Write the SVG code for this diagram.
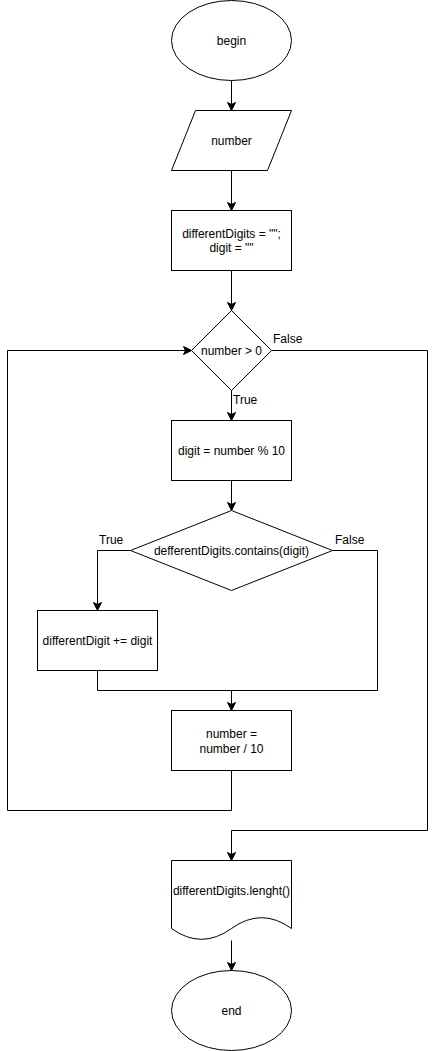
<svg xmlns="http://www.w3.org/2000/svg" width="436" height="1051" viewBox="0 0 436 1051">
  <style>
    .shape { fill: #ffffff; stroke: #000000; stroke-width: 1; }
    .edge { fill: none; stroke: #000000; stroke-width: 1; }
    .label { font-family: "Liberation Sans", Arial, Helvetica, sans-serif; font-size: 12px; fill: #000000; }
    .mid { text-anchor: middle; }
  </style>
  <defs>
    <marker id="arrow" markerUnits="userSpaceOnUse" markerWidth="10" markerHeight="10" refX="9" refY="5" orient="auto">
      <path d="M1,1 L9,5 L1,9 L3,5 Z" fill="#000000" stroke="#000000" stroke-width="1" stroke-linejoin="miter"/>
    </marker>
  </defs>
  <rect width="436" height="1051" fill="#ffffff"/>

  <!-- connectors -->
  <g id="connectors">
    <path class="edge" d="M231.5,80.5 V110.5" marker-end="url(#arrow)"/>
    <path class="edge" d="M231.5,170.5 V210.5" marker-end="url(#arrow)"/>
    <path class="edge" d="M231.5,270.5 V310.5" marker-end="url(#arrow)"/>
    <path class="edge" d="M231.5,390.5 V420.5" marker-end="url(#arrow)"/>
    <path class="edge" d="M231.5,480.5 V510.5" marker-end="url(#arrow)"/>
    <path class="edge" d="M130.5,550.5 H97.5 V610.5" marker-end="url(#arrow)"/>
    <path class="edge" d="M97.5,670.5 V690.5 H377.5 V550.5 H332.5"/>
    <path class="edge" d="M231.5,690.5 V710.5" marker-end="url(#arrow)"/>
    <path class="edge" d="M231.5,770.5 V810.5 H7.5 V350.5 H191.5" marker-end="url(#arrow)"/>
    <path class="edge" d="M271.5,350.5 H427.5 V830.5 H231.5 V860.5" marker-end="url(#arrow)"/>
    <path class="edge" d="M231.5,940.5 V970.5" marker-end="url(#arrow)"/>
    <text class="label" x="273" y="343">False</text>
    <text class="label" x="233" y="404">True</text>
    <text class="label" x="99" y="544">True</text>
    <text class="label" x="335" y="544">False</text>
  </g>

  <g id="begin">
    <ellipse class="shape" cx="231.5" cy="40.5" rx="60" ry="40"/>
    <text class="label mid" x="231.5" y="44.5">begin</text>
  </g>

  <g id="input-number">
    <polygon class="shape" points="195.5,110.5 291.5,110.5 267.5,170.5 171.5,170.5"/>
    <text class="label mid" x="231.5" y="144.5">number</text>
  </g>

  <g id="init">
    <rect class="shape" x="171.5" y="210.5" width="120" height="60"/>
    <text class="label mid" x="231.5" y="237.5">differentDigits = "";</text>
    <text class="label mid" x="231.5" y="251.5">digit = ""</text>
  </g>

  <g id="loop-condition">
    <polygon class="shape" points="231.5,310.5 271.5,350.5 231.5,390.5 191.5,350.5"/>
    <text class="label mid" x="231.5" y="354.5">number &gt; 0</text>
  </g>

  <g id="take-digit">
    <rect class="shape" x="171.5" y="420.5" width="120" height="60"/>
    <text class="label mid" x="231.5" y="454.5">digit = number % 10</text>
  </g>

  <g id="contains-check">
    <polygon class="shape" points="231.5,510.5 332.5,550.5 231.5,590.5 130.5,550.5"/>
    <text class="label mid" x="231.5" y="554.5">defferentDigits.contains(digit)</text>
  </g>

  <g id="append-digit">
    <rect class="shape" x="37.5" y="610.5" width="120" height="60"/>
    <text class="label mid" x="97.5" y="644.5">differentDigit += digit</text>
  </g>

  <g id="divide">
    <rect class="shape" x="171.5" y="710.5" width="120" height="60"/>
    <text class="label mid" x="231.5" y="737.5">number =</text>
    <text class="label mid" x="231.5" y="752.5">number / 10</text>
  </g>

  <g id="output-length">
    <path class="shape" d="M171.5,860.5 H291.5 V928.5 Q261.5,906.9 231.5,928.5 Q201.5,950.1 171.5,928.5 Z"/>
    <text class="label mid" x="231.5" y="894.5">differentDigits.lenght()</text>
  </g>

  <g id="end">
    <ellipse class="shape" cx="231.5" cy="1010.5" rx="60" ry="40"/>
    <text class="label mid" x="231.5" y="1014.5">end</text>
  </g>
</svg>
